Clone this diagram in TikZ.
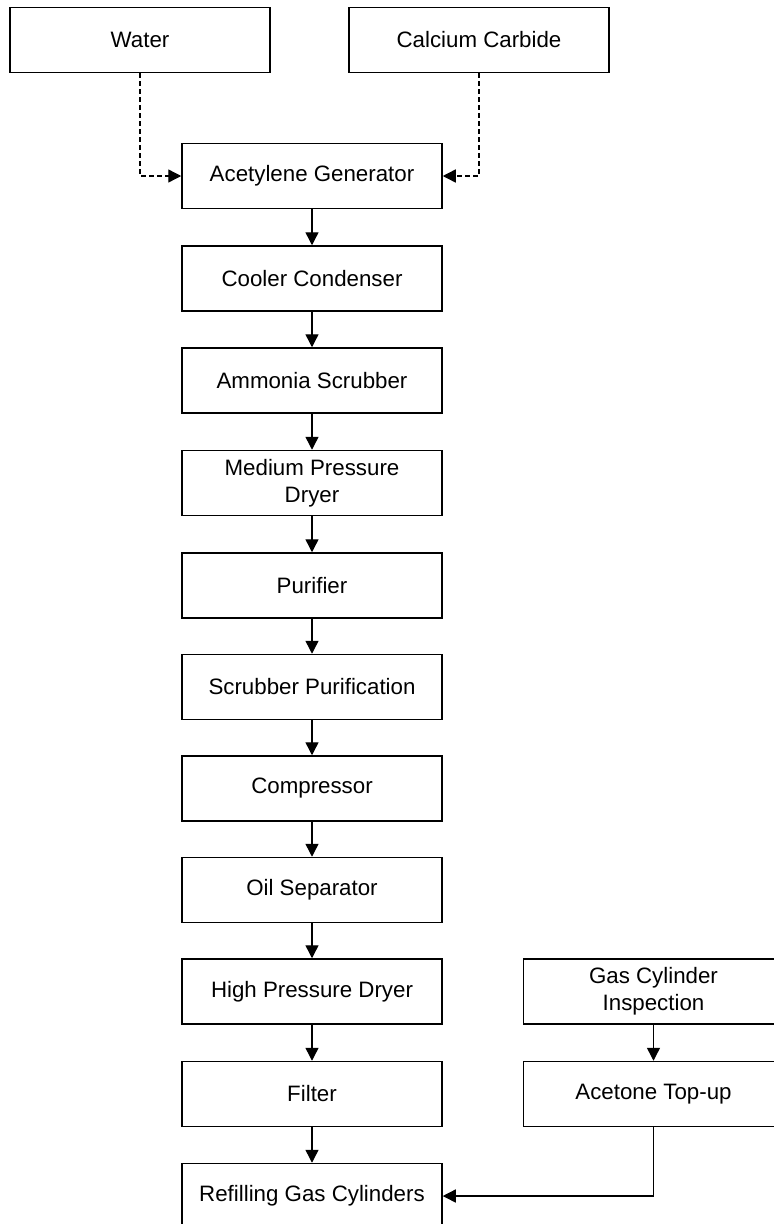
\documentclass[tikz,border=0pt]{standalone}
\usepackage{fontspec}
\setmainfont{Liberation Sans}
\usetikzlibrary{arrows.meta}

\tikzset{
    stage/.style={draw, line width=1.5pt, minimum width=260pt, minimum height=65pt,
        align=center, inner sep=2pt, font=\fontsize{22.3}{27}\selectfont},
    flow/.style={line width=1.4pt, -{Triangle[length=13pt,width=13pt]}},
    feed/.style={flow, dash pattern=on 5pt off 3pt}
}

\begin{document}
\begin{tikzpicture}[x=1pt,y=-1pt]
        \useasboundingbox (0,0) rectangle (774,1224);
        \clip (0,0) rectangle (774,1224);
        % raw materials
        \node[stage] (water) at (140,40) {Water};
        \node[stage] (carbide) at (479,40) {Calcium Carbide};
        % main line
        \node[stage] (gen) at (312,176) {Acetylene Generator};
        \node[stage] (cooler) at (312,278.5) {Cooler Condenser};
        \node[stage] (ammonia) at (312,380.5) {Ammonia Scrubber};
        \node[stage] (medium) at (312,483) {Medium Pressure\\Dryer};
        \node[stage] (purifier) at (312,585.5) {Purifier};
        \node[stage] (scrubber) at (312,687) {Scrubber Purification};
        \node[stage] (compressor) at (312,788.5) {Compressor};
        \node[stage] (oilsep) at (312,890) {Oil Separator};
        \node[stage] (hpdryer) at (312,991.5) {High Pressure Dryer};
        \node[stage] (filter) at (312,1094) {Filter};
        \node[stage] (refill) at (312,1196) {Refilling Gas Cylinders};
        % cylinders
        \node[stage] (inspect) at (653.5,991.5) {Gas Cylinder\\Inspection};
        \node[stage] (acetone) at (653.5,1094) {Acetone Top-up};

        \draw[feed] (water.south) |- (gen.west);
        \draw[feed] (carbide.south) |- (gen.east);
        \foreach \a/\b in {gen/cooler, cooler/ammonia, ammonia/medium, medium/purifier,
            purifier/scrubber, scrubber/compressor, compressor/oilsep, oilsep/hpdryer,
            hpdryer/filter, filter/refill, inspect/acetone} {
            \draw[flow] (\a.south) -- (\b.north);
        }
        \draw[flow] (acetone.south) |- (refill.east);
    \end{tikzpicture}
\end{document}
